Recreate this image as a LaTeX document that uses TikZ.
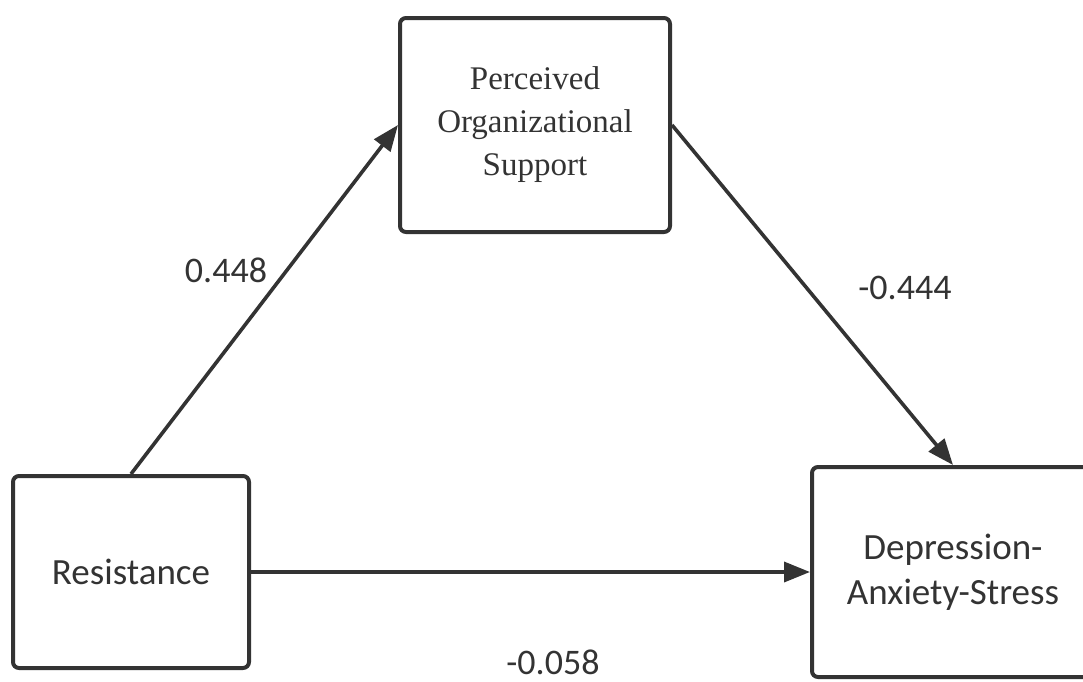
\documentclass[tikz,border=0pt]{standalone}
\usepackage{fontspec}
\setmainfont{Carlito}
\newfontfamily\serifbox{Liberation Serif}
\usetikzlibrary{arrows.meta}

\tikzset{
    VertexStyle/.style = {draw=black!80, line width=2pt, rounded corners=3pt,
        align=center, text=black!80, font=\fontsize{18.5}{22.5}\selectfont},
    EdgeStyle/.style = {draw=black!80, line width=1.8pt,
        -{Triangle[length=13pt,width=10pt]}},
    LabelStyle/.style = {text=black!80, font=\fontsize{18}{20}\selectfont}
}

\begin{document}
\begin{tikzpicture}[x=0.5pt,y=-0.5pt]
    \useasboundingbox (0,0) rectangle (1083,681);
    \clip (0,0) rectangle (1083,681);
    \node[VertexStyle, minimum width=135pt, minimum height=107pt,
        font=\serifbox\fontsize{16.5}{21.5}\selectfont] (support) at (535,125)
        {Perceived\\Organizational\\Support};
    \node[VertexStyle, minimum width=118pt, minimum height=96pt] (resist) at (131,572) {Resistance};
    \node[VertexStyle, minimum width=141pt, minimum height=105pt] (das) at (953,572) {Depression-\\Anxiety-Stress};
    \draw[EdgeStyle] (resist.north) -- (support.west);
    \draw[EdgeStyle] (support.east) -- (das.north);
    \draw[EdgeStyle] (resist.east) -- (das.west);
    \node[LabelStyle] (a) at (226,270) {0.448};
    \node[LabelStyle] (b) at (905,288) {-0.444};
    \node[LabelStyle] (c) at (553,662) {-0.058};
\end{tikzpicture}
\end{document}
